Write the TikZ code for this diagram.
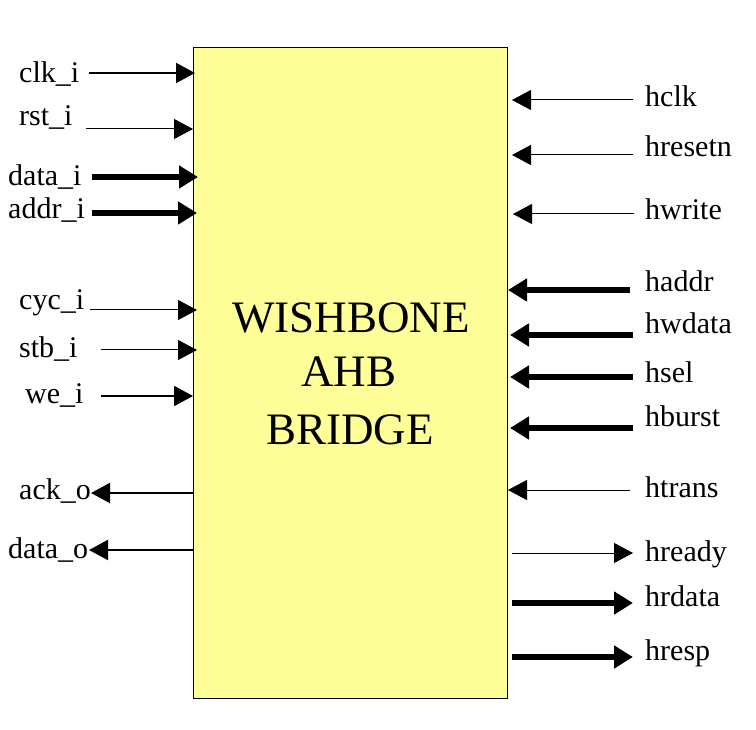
\documentclass[tikz,border=0pt]{standalone}
\usepackage{fontspec}
\setmainfont{Liberation Serif}
\usetikzlibrary{arrows.meta}
\definecolor{boxfill}{HTML}{FFFF99}
\tikzset{
  lbl/.style={inner sep=0pt, anchor=base west, font=\fontsize{30}{30}\selectfont},
  sigthin/.style={line width=1pt, -{Triangle[length=19pt,width=20pt]}},
  sigmed/.style={line width=2pt, -{Triangle[length=19pt,width=20pt]}},
  sigthick/.style={line width=6pt, -{Triangle[length=19pt,width=22pt]}},
  blk/.style={draw=black, line width=1pt, fill=boxfill},
}
\begin{document}
\begin{tikzpicture}[x=1pt,y=-1pt]
\useasboundingbox (0,0) rectangle (756,730);
\node[blk, minimum width=314pt, minimum height=651pt, anchor=north west, inner sep=0pt] (box) at (193,47) {};
\node[inner sep=0pt, anchor=base, font=\fontsize{45}{45}\selectfont] (t1) at (351,333) {WISHBONE};
\node[inner sep=0pt, anchor=base, font=\fontsize{45}{45}\selectfont] (t2) at (349,387) {AHB};
\node[inner sep=0pt, anchor=base, font=\fontsize{45}{45}\selectfont] (t3) at (350,444) {BRIDGE};
% left side
\node[lbl] (clk) at (19,83) {clk\_i};
\coordinate (clkA) at (89,73); \coordinate (clkB) at (195,73);
\draw[sigmed] (clkA) -- (clkB);
\node[lbl] (rst) at (19,126) {rst\_i};
\coordinate (rstA) at (86,129); \coordinate (rstB) at (193,129);
\draw[sigthin] (rstA) -- (rstB);
\node[lbl] (datai) at (8,186) {data\_i};
\coordinate (dataiA) at (92,177); \coordinate (dataiB) at (198,177);
\draw[sigthick] (dataiA) -- (dataiB);
\node[lbl] (addr) at (8,219) {addr\_i};
\coordinate (addrA) at (92,213); \coordinate (addrB) at (197,213);
\draw[sigthick] (addrA) -- (addrB);
\node[lbl] (cyc) at (19,310) {cyc\_i};
\coordinate (cycA) at (90,310); \coordinate (cycB) at (197,310);
\draw[sigthin] (cycA) -- (cycB);
\node[lbl] (stb) at (19,358) {stb\_i};
\coordinate (stbA) at (101,350); \coordinate (stbB) at (197,350);
\draw[sigthin] (stbA) -- (stbB);
\node[lbl] (we) at (25,403) {we\_i};
\coordinate (weA) at (101,396); \coordinate (weB) at (193,396);
\draw[sigmed] (weA) -- (weB);
\node[lbl] (ack) at (19,499) {ack\_o};
\coordinate (ackA) at (193,493); \coordinate (ackB) at (91,493);
\draw[sigmed] (ackA) -- (ackB);
\node[lbl] (datao) at (8,558) {data\_o};
\coordinate (dataoA) at (193,550); \coordinate (dataoB) at (89,550);
\draw[sigmed] (dataoA) -- (dataoB);
% right side
\node[lbl] (hclk) at (645,107) {hclk};
\coordinate (hclkA) at (633,100); \coordinate (hclkB) at (512,100);
\draw[sigthin] (hclkA) -- (hclkB);
\node[lbl] (hresetn) at (645,157) {hresetn};
\coordinate (hresetnA) at (633,155); \coordinate (hresetnB) at (512,155);
\draw[sigthin] (hresetnA) -- (hresetnB);
\node[lbl] (hwrite) at (645,220) {hwrite};
\coordinate (hwriteA) at (634,214); \coordinate (hwriteB) at (513,214);
\draw[sigthin] (hwriteA) -- (hwriteB);
\node[lbl] (haddr) at (645,292) {haddr};
\coordinate (haddrA) at (630,290); \coordinate (haddrB) at (508,290);
\draw[sigthick] (haddrA) -- (haddrB);
\node[lbl] (hwdata) at (645,334) {hwdata};
\coordinate (hwdataA) at (633,335); \coordinate (hwdataB) at (510,335);
\draw[sigthick] (hwdataA) -- (hwdataB);
\node[lbl] (hsel) at (645,383) {hsel};
\coordinate (hselA) at (633,377); \coordinate (hselB) at (510,377);
\draw[sigthick] (hselA) -- (hselB);
\node[lbl] (hburst) at (645,426) {hburst};
\coordinate (hburstA) at (633,428); \coordinate (hburstB) at (510,428);
\draw[sigthick] (hburstA) -- (hburstB);
\node[lbl] (htrans) at (645,497) {htrans};
\coordinate (htransA) at (630,490); \coordinate (htransB) at (508,490);
\draw[sigthin] (htransA) -- (htransB);
\node[lbl] (hready) at (645,561) {hready};
\coordinate (hreadyA) at (512,553); \coordinate (hreadyB) at (633,553);
\draw[sigthin] (hreadyA) -- (hreadyB);
\node[lbl] (hrdata) at (645,606) {hrdata};
\coordinate (hrdataA) at (512,603); \coordinate (hrdataB) at (633,603);
\draw[sigthick] (hrdataA) -- (hrdataB);
\node[lbl] (hresp) at (645,660) {hresp};
\coordinate (hrespA) at (512,657); \coordinate (hrespB) at (633,657);
\draw[sigthick] (hrespA) -- (hrespB);
\end{tikzpicture}
\end{document}
